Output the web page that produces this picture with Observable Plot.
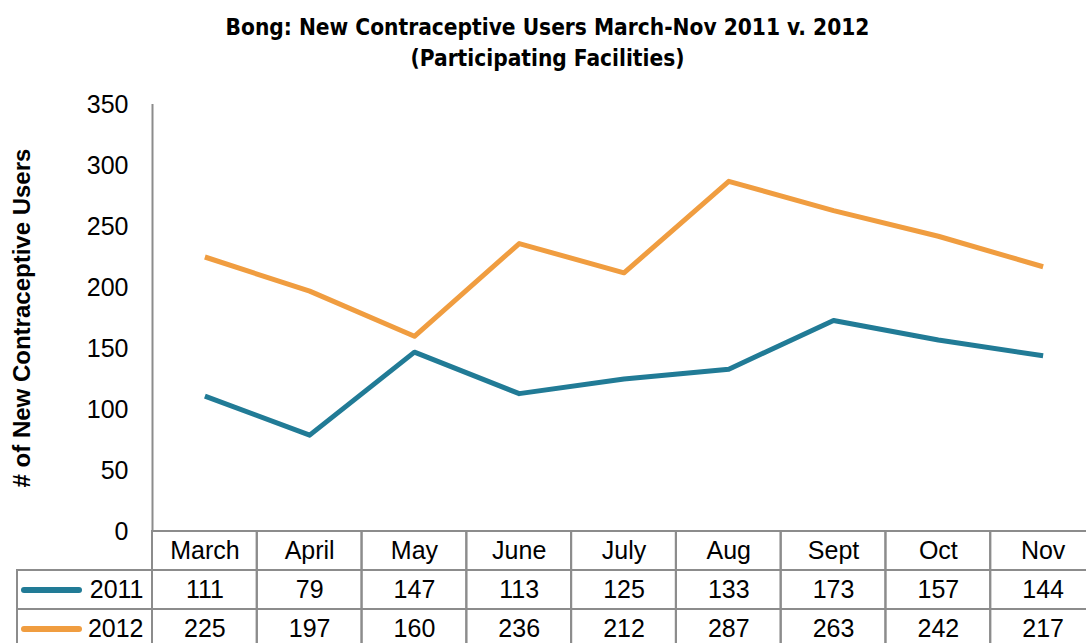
<!DOCTYPE html>
<html>
<head>
<meta charset="utf-8">
<script src="https://cdn.jsdelivr.net/npm/d3@7"></script>
<script src="https://cdn.jsdelivr.net/npm/@observablehq/plot@0.6"></script>
<style>
  html, body { margin: 0; padding: 0; background: #fff; overflow: hidden; }
  #title { width: 1095px; height: 85px; box-sizing: border-box; padding-top: 12px; text-align: center;
    font-family: "DejaVu Sans Condensed", sans-serif; font-weight: bold; font-size: 22.5px; line-height: 31px; color: #000; }
  svg { display: block; max-width: none !important; }
</style>
</head>
<body>
<div id="title">Bong: New Contraceptive Users March-Nov 2011 v. 2012<br>(Participating Facilities)</div>
<div id="chart"></div>
<script>
const months = ["March", "April", "May", "June", "July", "Aug", "Sept", "Oct", "Nov"];
const years = ["2011", "2012"];
const users2011 = [111, 79, 147, 113, 125, 133, 173, 157, 144];
const users2012 = [225, 197, 160, 236, 212, 287, 263, 242, 217];
const yTicks = [0, 50, 100, 150, 200, 250, 300, 350];
const colors = {"2011": "#217B96", "2012": "#F09D40"};
const yTitle = "# of New Contraceptive Users";

const W = 1095, ML = 152, MR = 0;
const gridColor = "#8c8c8c";
const font = "'Liberation Sans', Arial, sans-serif";
const step = (W - ML - MR) / months.length;

const series = [
  ...months.map((m, i) => ({month: m, year: "2011", value: users2011[i]})),
  ...months.map((m, i) => ({month: m, year: "2012", value: users2012[i]}))
];

const baseStyle = {fontSize: "25px", fontFamily: font, overflow: "visible", background: "none", color: "#000", maxWidth: "none"};

const main = Plot.plot({
  width: W, height: 446,
  marginTop: 19, marginBottom: 0, marginLeft: ML, marginRight: MR,
  style: baseStyle,
  x: {type: "point", domain: months, padding: 0.5, round: false, axis: null},
  y: {domain: [0, 350], ticks: yTicks, tickSize: 0, tickPadding: 24, label: null},
  marks: [
    Plot.ruleX([months[0]], {x: d => d, dx: -step / 2, stroke: gridColor, strokeWidth: 2}),
    Plot.line(series, {x: "month", y: "value", z: "year", stroke: d => colors[d.year],
      strokeWidth: 5, strokeLinejoin: "round", strokeLinecap: "butt"}),
    Plot.text([yTitle], {frameAnchor: "left", dx: -130, rotate: -90, textAnchor: "middle",
      fontWeight: "bold", fontSize: 24, fill: "#000"})
  ]
});

const tableCells = [
  ...months.map(m => ({month: m, row: "header", text: m})),
  ...months.map((m, i) => ({month: m, row: "2011", text: String(users2011[i])})),
  ...months.map((m, i) => ({month: m, row: "2012", text: String(users2012[i])}))
];

const table = Plot.plot({
  width: W, height: 117,
  marginTop: 0, marginBottom: 0, marginLeft: ML, marginRight: MR,
  style: baseStyle,
  x: {type: "band", domain: months, padding: 0, round: false, axis: null},
  y: {type: "band", domain: ["header", ...years], padding: 0, round: false, axis: null},
  marks: [
    Plot.cell(years, {y: d => d, insetLeft: -135, fill: "none", stroke: gridColor, strokeWidth: 2}),
    Plot.cell(tableCells, {x: "month", y: "row", fill: "none", stroke: gridColor, strokeWidth: 2}),
    Plot.text(tableCells, {x: "month", y: "row", text: "text", fill: "#000"}),
    Plot.ruleY(years, {y: d => d, stroke: d => colors[d], strokeWidth: 6, strokeLinecap: "round",
      insetLeft: -128, insetRight: W - 79}),
    Plot.text(years, {y: d => d, frameAnchor: "left", dx: -9, textAnchor: "end", text: d => d, fill: "#000"})
  ]
});

const chart = document.getElementById("chart");
chart.appendChild(main);
chart.appendChild(table);
</script>
</body>
</html>
